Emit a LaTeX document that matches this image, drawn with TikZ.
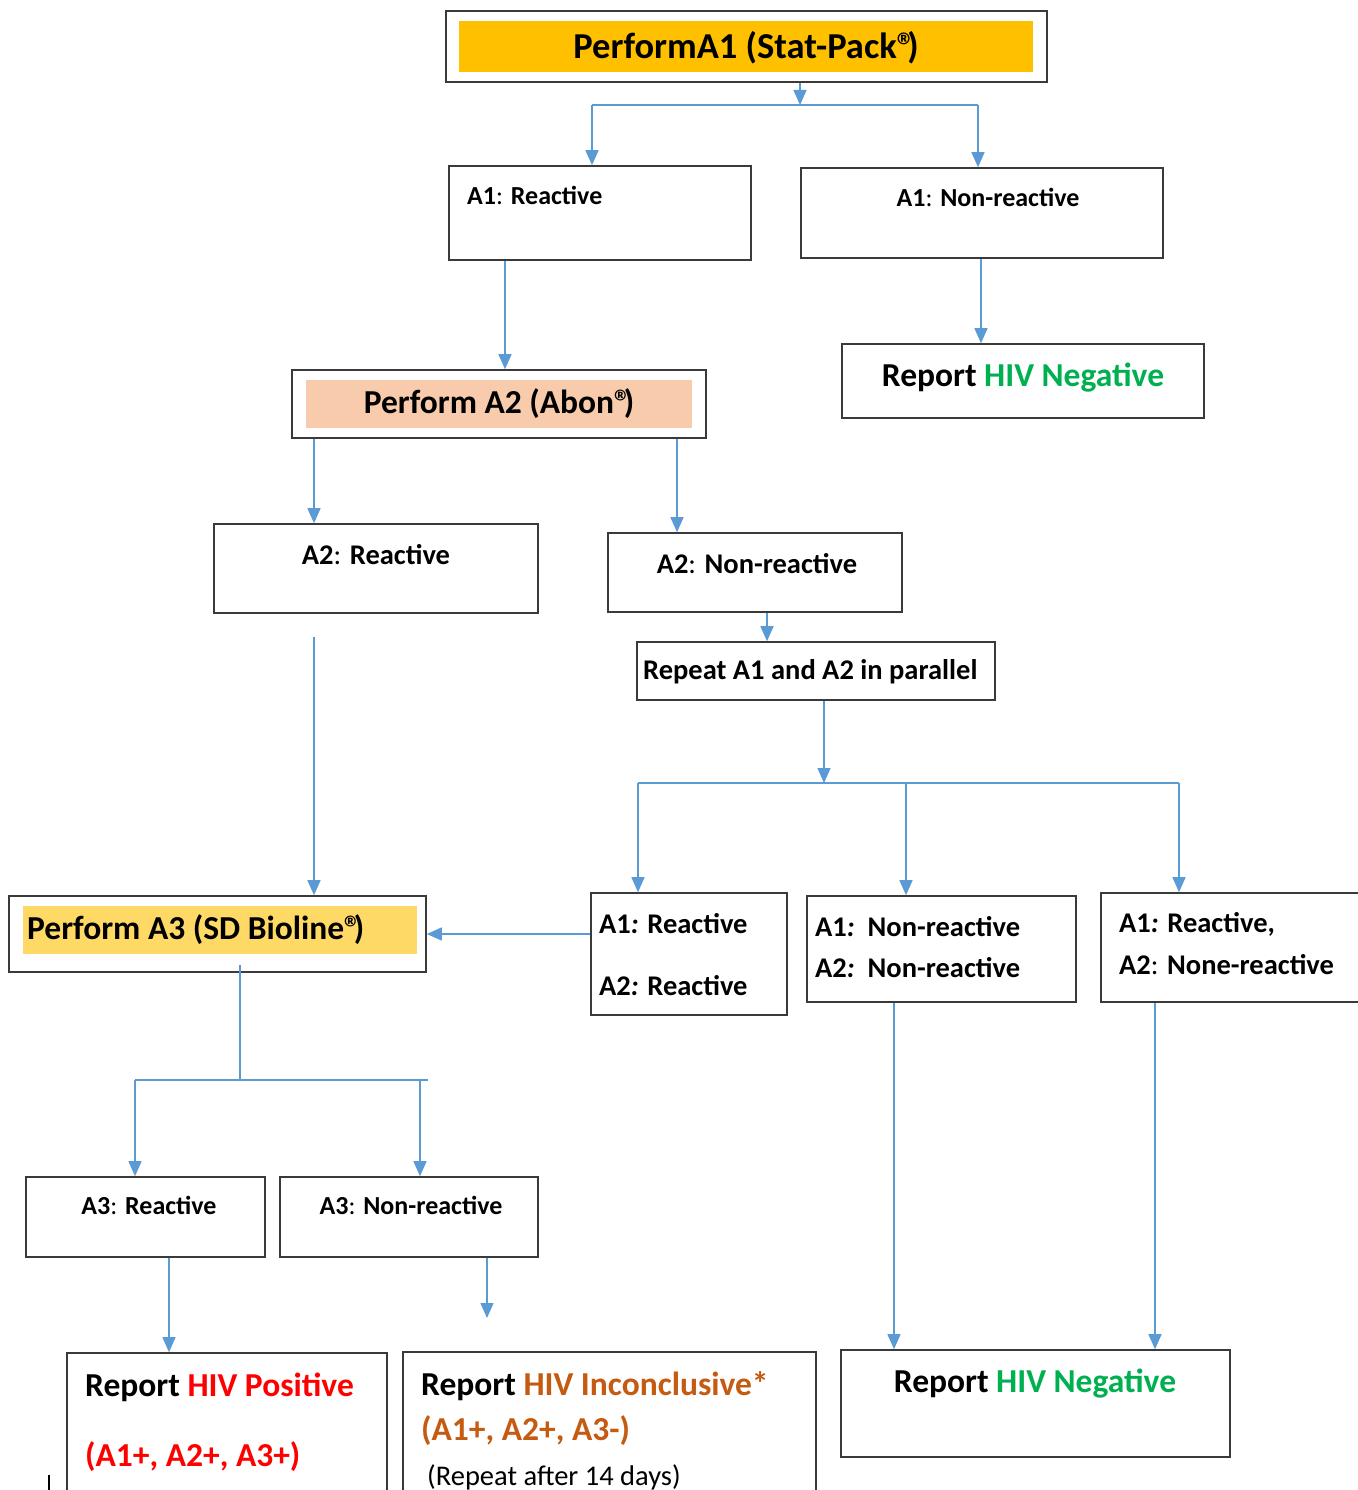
\documentclass[tikz,border=0pt]{standalone}
\usepackage{fontspec}
\setmainfont{Carlito}
\usetikzlibrary{arrows.meta,fit,calc}
\definecolor{linec}{HTML}{5B9BD5}
\definecolor{boxc}{HTML}{3A3A3A}
\definecolor{fillA}{HTML}{FFC000}
\definecolor{fillB}{HTML}{F8CBAD}
\definecolor{fillC}{HTML}{FFD966}
\definecolor{posred}{HTML}{FF0000}
\definecolor{neggreen}{HTML}{00B050}
\definecolor{incorange}{HTML}{C55A11}
\newcommand{\regmark}{®\kern-0.22em}
\begin{document}
\begin{tikzpicture}[x=1pt,y=-1pt,
  box/.style={draw=boxc, line width=1.6pt, inner sep=0pt},
  fillbox/.style={fill=#1, draw=none, inner sep=0pt},
  conn/.style={draw=linec, line width=1.4pt, -{Triangle[width=13pt,length=15pt]}},
  bar/.style={draw=linec, line width=1.4pt},
  ttl/.style={font=\fontsize{36.5}{44}\selectfont\bfseries, inner sep=0pt},
  big/.style={font=\fontsize{33.5}{40}\selectfont\bfseries, inner sep=0pt},
  mid/.style={font=\fontsize{28.5}{34}\selectfont\bfseries, inner sep=0pt},
  sml/.style={font=\fontsize{26}{31}\selectfont\bfseries, inner sep=0pt},
  reg/.style={font=\fontsize{28.5}{34}\selectfont, inner sep=0pt}]
\useasboundingbox (0,0) rectangle (1357,1490);
\fill[white] (0,0) rectangle (1357,1490);

% ---------- boxes ----------
\node[fillbox=fillA, fit={(459,21) (1033,72)}] (topfill) {};
\node[box, fit={(446,11) (1047,82)}] (top) {};
\node[ttl] (ttop) at (746,48) {PerformA1 (Stat-Pack\regmark)};

\node[box, fit={(449,166) (751,260)}] (a1r) {};
\node[sml, anchor=west] (ta1r) at (467,195) {A1\textmd{:} Reactive};

\node[box, fit={(801,168) (1163,258)}] (a1n) {};
\node[sml] (ta1n) at (988,197) {A1\textmd{:} Non-reactive};

\node[box, fit={(842,344) (1204,418)}] (neg1) {};
\node[big] (tneg1) at (1023,378) {Report \textcolor{neggreen}{HIV Negative}};

\node[fillbox=fillB, fit={(306,380) (692,428)}] (pa2fill) {};
\node[box, fit={(292,370) (706,438)}] (pa2) {};
\node[big] (tpa2) at (499,404) {Perform A2 (Abon\regmark)};

\node[box, fit={(214,524) (538,613)}] (a2r) {};
\node[mid] (ta2r) at (376,555) {A2\textmd{:} Reactive};

\node[box, fit={(608,533) (902,612)}] (a2n) {};
\node[mid] (ta2n) at (757,564) {A2\textmd{:} Non-reactive};

\node[box, fit={(637,642) (995,700)}] (rep) {};
\node[mid, anchor=west] (trep) at (643,672) {Repeat A1 and A2 in parallel};

\node[fillbox=fillC, fit={(23,906) (417,954)}] (pa3fill) {};
\node[box, fit={(9,896) (426,972)}] (pa3) {};
\node[big, anchor=west] (tpa3) at (27,930) {Perform A3 (SD Bioline\regmark)};

\node[box, fit={(591,893) (787,1015)}] (r1) {};
\node[mid, anchor=west] (tr1a) at (599,924) {A1\textit{:} Reactive};
\node[mid, anchor=west] (tr1b) at (599,986) {A2\textit{:} Reactive};

\node[box, fit={(807,896) (1076,1002)}] (r2) {};
\node[mid, anchor=west] (tr2a) at (815,927) {A1\textit{:}\ \ Non-reactive};
\node[mid, anchor=west] (tr2b) at (815,968) {A2\textit{:}\ \ Non-reactive};

\node[box, fit={(1101,893) (1370,1002)}] (r3) {};
\node[mid, anchor=west] (tr3a) at (1119,924) {A1\textit{:} Reactive,};
\node[mid, anchor=west] (tr3b) at (1119,965) {A2\textmd{:} None-reactive};

\node[box, fit={(26,1177) (265,1257)}] (a3r) {};
\node[sml] (ta3r) at (149,1205) {A3\textmd{:} Reactive};

\node[box, fit={(280,1177) (538,1257)}] (a3n) {};
\node[sml] (ta3n) at (411,1205) {A3\textmd{:} Non-reactive};

\node[box, fit={(67,1353) (387,1510)}] (pos) {};
\node[big, anchor=west] (tpos1) at (85,1387) {Report \textcolor{posred}{HIV Positive}};
\node[big, anchor=west, text=posred] (tpos2) at (85,1457) {(A1+, A2+, A3+)};

\node[box, fit={(403,1352) (816,1510)}] (inc) {};
\node[big, anchor=west] (tinc1) at (421,1386) {Report \textcolor{incorange}{HIV Inconclusive*}};
\node[big, anchor=west, text=incorange] (tinc2) at (421,1431) {(A1+, A2+, A3-)};
\node[reg, anchor=west] (tinc3) at (427,1477) {(Repeat after 14 days)};

\node[box, fit={(841,1350) (1230,1457)}] (neg2) {};
\node[big] (tneg2) at (1035,1384) {Report \textcolor{neggreen}{HIV Negative}};

% ---------- helper coordinates ----------
\coordinate (t0) at ([xshift=53.5pt]top.south);
\coordinate (j1) at (800,105);
\coordinate (jL) at (592,105);
\coordinate (jR) at (978,105);
\coordinate (s2) at ([xshift=-95pt]a1r.south);
\coordinate (s3) at ([xshift=-1pt]a1n.south);
\coordinate (s4) at ([xshift=-185pt]pa2.south);
\coordinate (s5) at ([xshift=178pt]pa2.south);
\coordinate (s6) at ([xshift=12pt]a2n.south);
\coordinate (s7) at ([xshift=8pt]rep.south);
\coordinate (j2) at (824,783);
\coordinate (jL2) at (638,783);
\coordinate (jM2) at (906,783);
\coordinate (jR2) at (1179,783);
\coordinate (s8) at ([xshift=-62pt,yshift=-23pt]a2r.south);
\coordinate (s9) at ([xshift=22.5pt,yshift=8pt]pa3.south);
\coordinate (j3) at (240,1080);
\coordinate (jL3) at (135,1080);
\coordinate (jR3) at (420,1080);
\coordinate (jE3) at (428,1080);
\coordinate (s10) at ([xshift=23.5pt]a3r.south);
\coordinate (s11) at ([xshift=78pt]a3n.south);
\coordinate (e11) at (487,1318);
\coordinate (s12) at ([xshift=-47.5pt]r2.south);
\coordinate (s13) at ([xshift=-80.5pt]r3.south);

% ---------- connectors ----------
\draw[conn] (t0) -- (j1);
\draw[bar] (jL) -- (jR);
\draw[conn] (jL) -- (jL |- a1r.north);
\draw[conn] (jR) -- (jR |- a1n.north);
\draw[conn] (s2) -- (s2 |- pa2.north);
\draw[conn] (s3) -- (s3 |- neg1.north);
\draw[conn] (s4) -- (s4 |- a2r.north);
\draw[conn] (s5) -- (s5 |- a2n.north);
\draw[conn] (s6) -- (s6 |- rep.north);
\draw[conn] (s7) -- (j2);
\draw[bar] (jL2) -- (jR2);
\draw[conn] (jL2) -- (jL2 |- r1.north);
\draw[conn] (jM2) -- (jM2 |- r2.north);
\draw[conn] (jR2) -- (jR2 |- r3.north);
\draw[conn] (s8) -- (s8 |- pa3.north);
\draw[conn] (r1.west |- pa3.east) -- (pa3.east);
\draw[bar] (s9) -- (j3);
\draw[bar] (jL3) -- (jE3);
\draw[conn] (jL3) -- (jL3 |- a3r.north);
\draw[conn] (jR3) -- (jR3 |- a3n.north);
\draw[conn] (s10) -- (s10 |- pos.north);
\draw[conn] (s11) -- (e11);
\draw[conn] (s12) -- (s12 |- neg2.north);
\draw[conn] (s13) -- (s13 |- neg2.north);

% stray tick at lower left
\coordinate (k1) at (49,1475);
\coordinate (k2) at (49,1495);
\draw[black, line width=1.2pt] (k1) -- (k2);
\end{tikzpicture}
\end{document}
